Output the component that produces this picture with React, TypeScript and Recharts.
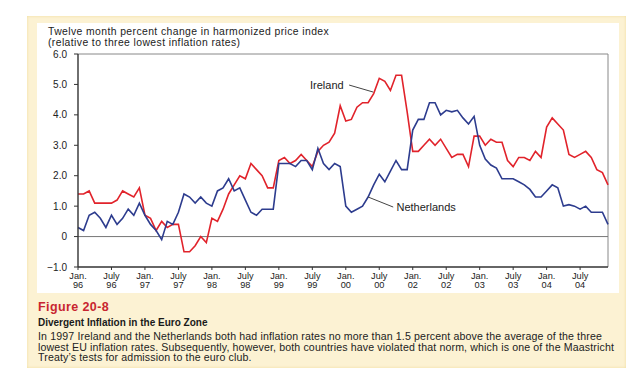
import { LineChart, Line, XAxis, YAxis, ReferenceLine, ReferenceDot } from 'recharts';

// month index 0 = Jan. 96, one value per month
const ireland = [
  1.4, 1.4, 1.5, 1.1, 1.1, 1.1, 1.1, 1.2, 1.5, 1.4, 1.3, 1.6,
  0.7, 0.6, 0.2, 0.5, 0.3, 0.4, 0.4, -0.5, -0.5, -0.3, 0.0, -0.2,
  0.6, 0.5, 0.9, 1.4, 1.7, 2.0, 1.9, 2.4, 2.2, 2.0, 1.6, 1.6,
  2.5, 2.6, 2.4, 2.5, 2.7, 2.5, 2.3, 2.8, 3.0, 3.1, 3.4, 4.3,
  3.8, 3.85, 4.25, 4.4, 4.4, 4.7, 5.2, 5.1, 4.8, 5.3, 5.3, 4.1,
  2.8, 2.8, 3.0, 3.2, 3.0, 3.2, 2.9, 2.6, 2.7, 2.7, 2.3, 3.3,
  3.3, 3.0, 3.2, 3.1, 3.1, 2.5, 2.3, 2.6, 2.6, 2.5, 2.8, 2.6,
  3.6, 3.9, 3.7, 3.5, 2.7, 2.6, 2.7, 2.8, 2.6, 2.2, 2.1, 1.7,
];

const netherlands = [
  0.3, 0.2, 0.7, 0.8, 0.6, 0.3, 0.7, 0.4, 0.6, 0.9, 0.7, 1.1,
  0.7, 0.4, 0.2, -0.1, 0.5, 0.4, 0.8, 1.4, 1.3, 1.1, 1.3, 1.1,
  1.0, 1.5, 1.6, 1.9, 1.5, 1.6, 1.2, 0.8, 0.7, 0.9, 0.9, 0.9,
  2.4, 2.4, 2.4, 2.3, 2.5, 2.5, 2.2, 2.9, 2.4, 2.2, 2.4, 2.3,
  1.0, 0.8, 0.9, 1.0, 1.3, 1.7, 2.05, 1.8, 2.15, 2.5, 2.2, 2.2,
  3.5, 3.85, 3.85, 4.4, 4.4, 4.0, 4.15, 4.1, 4.15, 3.9, 3.7, 3.95,
  3.0, 2.55, 2.35, 2.25, 1.9, 1.9, 1.9, 1.8, 1.7, 1.55, 1.3, 1.3,
  1.5, 1.7, 1.6, 1.0, 1.05, 1.0, 0.9, 1.0, 0.8, 0.8, 0.8, 0.4,
];

const tickMonths = [0, 6, 12, 18, 24, 30, 36, 42, 48, 54, 60, 66, 72, 78, 84, 90];
const tickMonthNames = ['Jan.', 'July', 'Jan.', 'July', 'Jan.', 'July', 'Jan.', 'July', 'Jan.', 'July', 'Jan.', 'July', 'Jan.', 'July', 'Jan.', 'July'];
const tickYears = ['96', '96', '97', '97', '98', '98', '99', '99', '00', '00', '02', '02', '03', '03', '04', '04'];
const yTicks = [-1, 0, 1, 2, 3, 4, 5, 6];

const data = ireland.map((v, i) => ({ m: i, ireland: v, netherlands: netherlands[i] }));

const font = '"Liberation Sans", Arial, sans-serif';
const RED = '#e1232b';
const BLUE = '#2d3c8e';

function MonthTick({ x, y, payload }: any) {
  const i = tickMonths.indexOf(payload.value);
  return (
    <g transform={`translate(${x},${y})`}>
      <text textAnchor="middle" fontSize={9.2} fontFamily={font} fill="#222">
        <tspan x={0} dy={6.8}>{tickMonthNames[i]}</tspan>
        <tspan x={0} dy={9.4}>{tickYears[i]}</tspan>
      </text>
    </g>
  );
}

const fmtY = (v: number) => (v === 0 ? '0' : v < 0 ? '\u2212' + Math.abs(v).toFixed(1) : v.toFixed(1));

export default function App() {
  return (
    <div style={{ position: 'absolute', left: 0, top: 0, width: 638, height: 377, background: '#fff', fontFamily: font }}>
      <div style={{ position: 'absolute', left: 27, top: 16, width: 599, height: 352, background: '#fcf2d3', boxShadow: 'inset 0 0 3px #f0dc9c' }} />
      <div style={{ position: 'absolute', left: 37, top: 23, width: 582, height: 270, background: '#fff' }} />
      <div style={{ position: 'absolute', left: 48, top: 26, fontSize: 10.4, lineHeight: '11px', letterSpacing: 0.4, color: '#222', whiteSpace: 'nowrap' }}>
        <div>Twelve month percent change in harmonized price index</div>
        <div>(relative to three lowest inflation rates)</div>
      </div>
      <div style={{ position: 'absolute', left: 0, top: 0 }}>
        <LineChart width={638} height={300} data={data} margin={{ top: 54, right: 30, bottom: 3, left: 0 }}>
          <XAxis
            dataKey="m"
            type="number"
            domain={[0, 95]}
            ticks={tickMonths}
            interval={0}
            tick={<MonthTick />}
            tickSize={3}
            tickMargin={2}
            height={30}
            axisLine={{ stroke: '#333', strokeWidth: 1.4 }}
            tickLine={{ stroke: '#333' }}
          />
          <YAxis
            type="number"
            domain={[-1, 6]}
            ticks={yTicks}
            interval={0}
            tickFormatter={fmtY}
            width={78}
            tickSize={4}
            tickMargin={7}
            tick={{ fontSize: 10, fill: '#222', fontFamily: font }}
            axisLine={{ stroke: '#333', strokeWidth: 1.4 }}
            tickLine={{ stroke: '#333' }}
          />
          <ReferenceLine y={6} stroke="#888" />
          <ReferenceLine x={95} stroke="#888" />
          <ReferenceLine y={0} stroke="#777" />
          <Line type="linear" dataKey="ireland" stroke={RED} strokeWidth={1.6} dot={false} isAnimationActive={false} />
          <Line type="linear" dataKey="netherlands" stroke={BLUE} strokeWidth={1.6} dot={false} isAnimationActive={false} />
          <ReferenceLine segment={[{ x: 48.6, y: 4.98 }, { x: 52.9, y: 4.75 }]} stroke="#444" />
          <ReferenceDot x={44.6} y={4.98} r={0} fill="none" stroke="none" label={{ value: 'Ireland', position: 'center', fontSize: 11, fill: '#222', fontFamily: font }} />
          <ReferenceLine segment={[{ x: 52.0, y: 1.3 }, { x: 56.5, y: 0.97 }]} stroke="#444" />
          <ReferenceDot x={62.4} y={0.97} r={0} fill="none" stroke="none" label={{ value: 'Netherlands', position: 'center', fontSize: 11, fill: '#222', fontFamily: font }} />
        </LineChart>
      </div>
      <div style={{ position: 'absolute', left: 38, top: 301, fontSize: 12.5, lineHeight: '13px', fontWeight: 'bold', color: '#c8252f', letterSpacing: 0.4 }}>
        Figure 20-8
      </div>
      <div style={{ position: 'absolute', left: 38, top: 317.5, fontSize: 10, lineHeight: '10px', fontWeight: 'bold', color: '#1a1a1a', whiteSpace: 'nowrap' }}>
        Divergent Inflation in the Euro Zone
      </div>
      <div style={{ position: 'absolute', left: 38, top: 331, fontSize: 10.6, lineHeight: '10.6px', letterSpacing: 0.14, color: '#222', whiteSpace: 'nowrap' }}>
        <div>In 1997 Ireland and the Netherlands both had inflation rates no more than 1.5 percent above the average of the three</div>
        <div>lowest EU inflation rates. Subsequently, however, both countries have violated that norm, which is one of the Maastricht</div>
        <div>Treaty’s tests for admission to the euro club.</div>
      </div>
    </div>
  );
}
